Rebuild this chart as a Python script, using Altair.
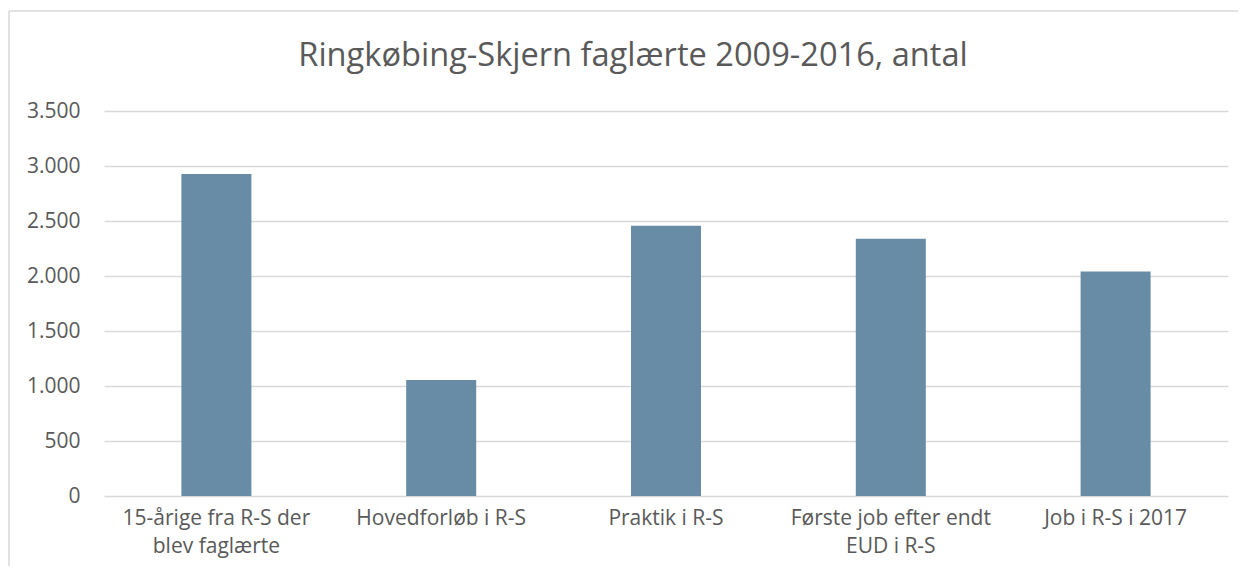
import altair as alt
import pandas as pd

categories = [
    "15-årige fra R-S der\nblev faglærte",
    "Hovedforløb i R-S",
    "Praktik i R-S",
    "Første job efter endt\nEUD i R-S",
    "Job i R-S i 2017",
]
values = [2928, 1055, 2457, 2338, 2040]
y_ticks = [0, 500, 1000, 1500, 2000, 2500, 3000, 3500]
title_text = "Ringkøbing-Skjern faglærte 2009-2016, antal"

df = pd.DataFrame({"kategori": categories, "antal": values})

TEXT = "#595959"
GRID = "#d9d9d9"
FONT = "Open Sans"

bars = alt.Chart(df).mark_bar(color="#688BA6", size=70).encode(
    x=alt.X(
        "kategori:N",
        sort=None,
        scale=alt.Scale(paddingInner=0, paddingOuter=0),
        axis=alt.Axis(
            title=None,
            labelAngle=0,
            labelExpr="split(datum.label, '\\n')",
            labelFontSize=21,
            labelFont=FONT,
            labelColor=TEXT,
            labelPadding=11,
            labelLineHeight=28,
            labelLimit=0,
            ticks=False,
            domain=False,
            grid=False,
            labelBaseline="top",
        ),
    ),
    y=alt.Y(
        "antal:Q",
        scale=alt.Scale(domain=[0, 3500], nice=False),
        axis=alt.Axis(
            title=None,
            values=y_ticks,
            labelExpr="replace(format(datum.value, ','), ',', '.')",
            labelFontSize=21,
            labelFont=FONT,
            labelColor=TEXT,
            labelPadding=24,
            ticks=False,
            domain=False,
            grid=True,
            gridColor=GRID,
            gridWidth=1.5,
        ),
    ),
)

single = alt.Data(values=[{"t": title_text}])
left_border = alt.Chart(single).mark_rule(color=GRID, strokeWidth=1.5).encode(
    x=alt.value(-95), y=alt.value(-100), y2=alt.value(480)
)
top_border = alt.Chart(single).mark_rule(color=GRID, strokeWidth=1.5).encode(
    x=alt.value(-95), x2=alt.value(1150), y=alt.value(-100)
)
title = alt.Chart(single).mark_text(
    font=FONT, fontSize=32.6, color=TEXT, align="center", baseline="alphabetic"
).encode(text="t:N", x=alt.value(529), y=alt.value(-45))

chart = (
    alt.layer(left_border, top_border, title, bars)
    .properties(
        width=1124,
        height=385,
        autosize=alt.AutoSizeParams(type="none"),
        padding={"left": 96, "top": 103, "right": 10, "bottom": 70},
        view=alt.ViewBackground(stroke="transparent", strokeWidth=0),
    )
    .configure_view(stroke=None, strokeWidth=0, strokeOpacity=0)
    .configure_axisX(grid=False, domain=False)
    .configure_axisY(domain=False)
    .configure(background="white")
)

chart.save("out.html", embed_options={"renderer": "svg", "actions": False})
